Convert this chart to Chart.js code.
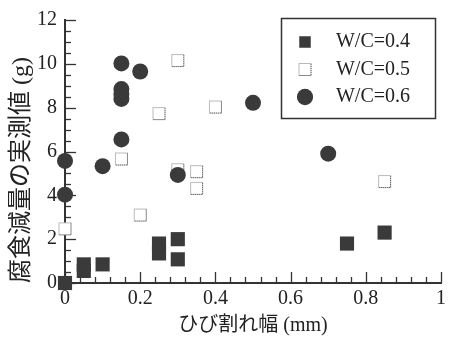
<!DOCTYPE html>
<html><head><meta charset="utf-8">
<script src="https://cdn.jsdelivr.net/npm/chart.js@4/dist/chart.umd.min.js"></script>
<style>html,body{margin:0;padding:0;background:#fff}</style>
</head><body>
<canvas id="c" width="451" height="341"></canvas>
<script>
// ---- data ----
const seriesNames = ['W/C=0.4', 'W/C=0.5', 'W/C=0.6'];
const crack04 = [0, 0.05, 0.05, 0.1, 0.25, 0.25, 0.3, 0.3, 0.75, 0.85];
const loss04  = [0, 0.55, 0.85, 0.85, 1.35, 1.8, 2.0, 1.08, 1.8, 2.3];
const crack05 = [0, 0.15, 0.2, 0.25, 0.3, 0.3, 0.35, 0.35, 0.4, 0.85];
const loss05  = [2.47, 5.66, 3.1, 7.73, 10.15, 5.17, 5.08, 4.32, 8.03, 4.63];
const crack06 = [0, 0, 0.1, 0.15, 0.15, 0.15, 0.15, 0.15, 0.2, 0.3, 0.5, 0.7];
const loss06  = [5.57, 4.03, 5.33, 10.02, 8.85, 8.62, 8.4, 6.55, 9.65, 4.93, 8.22, 5.9];
const xTickLabels = ['0', '0.2', '0.4', '0.6', '0.8', '1'];
const yTickLabels = ['0', '2', '4', '6', '8', '10', '12'];
const xTitle = 'ひび割れ幅 (mm)';
const yTitle = '腐食減量の実測値 (g)';

const FONT = "'Liberation Serif', 'Times New Roman', 'Noto Sans CJK JP', serif";
const DARK = '#3a3a3a';

function pts(xs, ys) { return xs.map((v, i) => ({x: v, y: ys[i]})); }

// open dotted square marker
const openSq = document.createElement('canvas');
openSq.width = 15; openSq.height = 15;
(function () {
  const g = openSq.getContext('2d');
  g.fillStyle = '#fff'; g.fillRect(1, 1, 13, 13);
  g.strokeStyle = '#777'; g.lineWidth = 1; g.setLineDash([1, 1]);
  g.strokeRect(1.5, 1.5, 12, 12);
  g.strokeStyle = '#555';
  g.beginPath(); g.moveTo(13.5, 2); g.lineTo(13.5, 13.5); g.lineTo(2, 13.5); g.stroke();
})();

function isMultiple(v, step) { const r = v / step; return Math.abs(r - Math.round(r)) < 1e-6; }

const axisTicks = {
  id: 'axisTicks',
  beforeDatasetsDraw(chart) {
    const {ctx, chartArea: a, scales: {x, y}} = chart;
    ctx.save();
    ctx.strokeStyle = '#333'; ctx.lineWidth = 1.3;
    x.ticks.forEach(t => {
      const px = Math.round(x.getPixelForValue(t.value)) + 0.5;
      const len = t.label !== '' ? 11 : 6;
      ctx.beginPath(); ctx.moveTo(px, a.bottom); ctx.lineTo(px, a.bottom - len); ctx.stroke();
    });
    y.ticks.forEach(t => {
      const py = Math.round(y.getPixelForValue(t.value)) + 0.5;
      const len = t.label !== '' ? 11 : 6;
      ctx.beginPath(); ctx.moveTo(a.left, py); ctx.lineTo(a.left + len, py); ctx.stroke();
    });
    ctx.restore();
  }
};

const legendPlace = {
  id: 'legendPlace',
  beforeDraw(chart) {
    const lg = chart.legend, a = chart.chartArea;
    lg.left = a.right - 153.5;
    lg.top = a.top - 0.5;
    lg.right = a.right - 31;
    lg.bottom = lg.top + 100;
    lg.width = lg.right - lg.left;
    lg.height = lg.bottom - lg.top;
  },
  afterDraw(chart) {
    const {ctx, chartArea: a} = chart;
    ctx.save();
    ctx.strokeStyle = '#333'; ctx.lineWidth = 1.5;
    ctx.strokeRect(a.right - 159.5, a.top - 1.5, 154, 100);
    ctx.restore();
  }
};

new Chart(document.getElementById('c'), {
  type: 'scatter',
  data: {
    datasets: [
      { label: seriesNames[0], data: pts(crack04, loss04), pointStyle: 'rect', pointRadius: 10,
        backgroundColor: DARK, borderColor: DARK, borderWidth: 0, order: 2, clip: false },
      { label: seriesNames[1], data: pts(crack05, loss05), pointStyle: openSq, pointRadius: 8,
        backgroundColor: '#fff', borderColor: '#777', borderWidth: 0, order: 1, clip: false },
      { label: seriesNames[2], data: pts(crack06, loss06), pointStyle: 'circle', pointRadius: 8,
        backgroundColor: DARK, borderColor: DARK, borderWidth: 0, order: 0, clip: false }
    ]
  },
  options: {
    responsive: false,
    animation: false,
    layout: { padding: { left: 0, right: 10, top: 16, bottom: 0 } },
    plugins: {
      tooltip: { enabled: false },
      legend: {
        position: 'chartArea',
        labels: {
          usePointStyle: true, boxWidth: 20, boxHeight: 11.5, padding: 7.5,
          textAlign: 'right', color: '#222',
          font: { family: FONT, size: 20 },
          sort: (a, b) => a.datasetIndex - b.datasetIndex
        }
      }
    },
    scales: {
      x: {
        type: 'linear', min: 0, max: 1,
        afterFit: s => { s.height = 58; },
        grid: { display: true, drawOnChartArea: false, drawTicks: false },
        border: { display: true, color: '#333', width: 2 },
        ticks: {
          stepSize: 0.04, autoSkip: false, maxRotation: 0, padding: 4,
          color: '#222', font: { family: FONT, size: 20 },
          callback: v => isMultiple(v, 0.2) ? xTickLabels[Math.round(v / 0.2)] : ''
        },
        title: { display: true, text: xTitle, color: '#222',
          font: { family: FONT, size: 20 }, padding: { top: 0, bottom: 3 } }
      },
      y: {
        type: 'linear', min: 0, max: 12,
        afterFit: s => { s.width = 65; },
        grid: { display: true, drawOnChartArea: false, drawTicks: false },
        border: { display: true, color: '#333', width: 2 },
        ticks: {
          stepSize: 0.5, autoSkip: false, padding: 8,
          color: '#222', font: { family: FONT, size: 20 },
          callback: v => isMultiple(v, 2) ? yTickLabels[Math.round(v / 2)] : ''
        },
        title: { display: true, text: yTitle, color: '#222', align: 'start',
          font: { family: FONT, size: 24 }, padding: { top: 7, bottom: 0 } }
      }
    }
  },
  plugins: [axisTicks, legendPlace]
});
</script>
</body></html>
